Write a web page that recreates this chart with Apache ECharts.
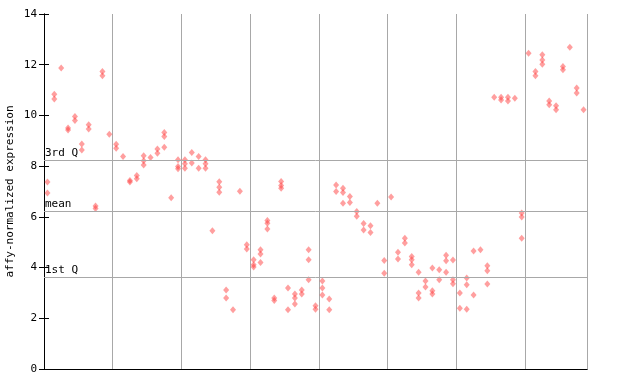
<!DOCTYPE html>
<html><head><meta charset="utf-8">
<script src="https://cdn.jsdelivr.net/npm/echarts@6/dist/echarts.min.js"></script>
<style>html,body{margin:0;padding:0;background:#fff}#c{width:640px;height:384px}</style>
</head><body><div id="c"></div>
<script>
// replicate values for each sample column (left to right)
const sampleValues = [
  [7.37, 6.94], [10.84, 10.65], [11.87], [9.5, 9.43], [9.96, 9.8],
  [8.87, 8.64], [9.63, 9.46], [6.43, 6.33], [11.73, 11.56], [9.26],
  [8.86, 8.71], [8.38], [7.43, 7.37], [7.63, 7.5], [8.41, 8.21, 8.05],
  [8.34], [8.68, 8.51], [9.33, 9.17, 8.75], [6.75], [8.25, 7.99, 7.9],
  [8.25, 8.09, 7.92], [8.54, 8.12], [8.38, 7.92], [8.25, 8.09, 7.92], [5.45],
  [7.38, 7.17, 6.97], [3.12, 2.8], [2.34], [7.01], [4.9, 4.73],
  [4.31, 4.11, 4.02], [4.7, 4.54, 4.2], [5.86, 5.75, 5.52], [2.8, 2.7], [7.39, 7.24, 7.13],
  [3.19, 2.34], [2.96, 2.8, 2.56], [3.12, 2.96], [4.7, 4.31, 3.52], [2.49, 2.36],
  [3.47, 3.19, 2.92], [2.76, 2.34], [7.26, 7.0], [7.13, 6.96, 6.54], [6.8, 6.57],
  [6.21, 6.02], [5.74, 5.48], [5.65, 5.38], [6.54], [4.28, 3.78],
  [6.78], [4.6, 4.34], [5.16, 4.97], [4.44, 4.31, 4.11], [3.82, 3.0, 2.8],
  [3.47, 3.23], [3.98, 3.09, 2.96], [3.91, 3.52], [4.49, 4.27, 3.82], [4.3, 3.52, 3.36],
  [3.0, 2.4], [3.59, 3.32, 2.36], [4.65, 2.92], [4.7], [4.07, 3.87, 3.35],
  [10.72], [10.72, 10.61], [10.72, 10.57], [10.68], [6.15, 5.99, 5.16],
  [12.45], [11.73, 11.56], [12.39, 12.19, 12.02], [10.57, 10.42], [10.38, 10.22],
  [11.93, 11.8], [12.69], [11.08, 10.88], [10.22]
];
const refLines = [
  { name: '3rd Q', value: 8.25 },
  { name: 'mean', value: 6.23 },
  { name: '1st Q', value: 3.63 }
];
const yTicks = [0, 2, 4, 6, 8, 10, 12, 14];
const groupSize = 10;

const points = [];
sampleValues.forEach((vals, i) => vals.forEach(v => points.push([i + 0.5, v])));
const nSamples = sampleValues.length;
const font = 'DejaVu Sans Mono';

const chart = echarts.init(document.getElementById('c'), null, { renderer: 'canvas' });
chart.setOption({
  animation: false,
  backgroundColor: '#ffffff',
  grid: { left: 44, top: 14, right: 53, bottom: 15, containLabel: false, outerBoundsMode: 'none' },
  xAxis: [
    { type: 'value', min: 0, max: nSamples, interval: groupSize,
      axisLine: { lineStyle: { color: '#000', width: 1 } },
      axisTick: { show: false }, axisLabel: { show: false },
      splitLine: { show: true, lineStyle: { color: '#a8a8a8', width: 1 } } },
    { type: 'value', position: 'top', min: 0, max: nSamples,
      axisLine: { show: true, lineStyle: { color: '#000', width: 1 } },
      axisTick: { show: false }, axisLabel: { show: false }, splitLine: { show: false } }
  ],
  yAxis: [
    { type: 'value', min: yTicks[0], max: yTicks[yTicks.length - 1], interval: 2,
      name: 'affy-normalized expression', nameLocation: 'middle', nameGap: 28,
      nameMoveOverlap: false,
      nameTextStyle: { fontFamily: font, fontSize: 11, color: '#000' },
      axisLine: { show: true, lineStyle: { color: '#000', width: 1 } },
      axisTick: { show: true, inside: true, length: 5, lineStyle: { color: '#000' } },
      axisLabel: { margin: 7, fontFamily: font, fontSize: 11, color: '#000' },
      splitLine: { show: false } },
    { type: 'value', position: 'right', min: yTicks[0], max: yTicks[yTicks.length - 1], interval: 2,
      axisLine: { show: true, lineStyle: { color: '#000', width: 1 } },
      axisTick: { show: true, inside: true, length: 5, lineStyle: { color: '#000' } },
      axisLabel: { show: false }, splitLine: { show: false } }
  ],
  series: [{
    type: 'scatter',
    data: points,
    symbol: 'diamond',
    symbolSize: [6, 7],
    itemStyle: { color: 'rgba(255,60,60,0.62)' },
    markLine: {
      silent: true, symbol: 'none', animation: false,
      lineStyle: { color: '#a8a8a8', type: 'solid', width: 1 },
      label: { show: true, position: 'insideStartTop', distance: [1, 1],
               fontFamily: font, fontSize: 11, color: '#000', formatter: p => p.name },
      data: refLines.map(r => ({ name: r.name, yAxis: r.value }))
    }
  }]
});
</script></body></html>
